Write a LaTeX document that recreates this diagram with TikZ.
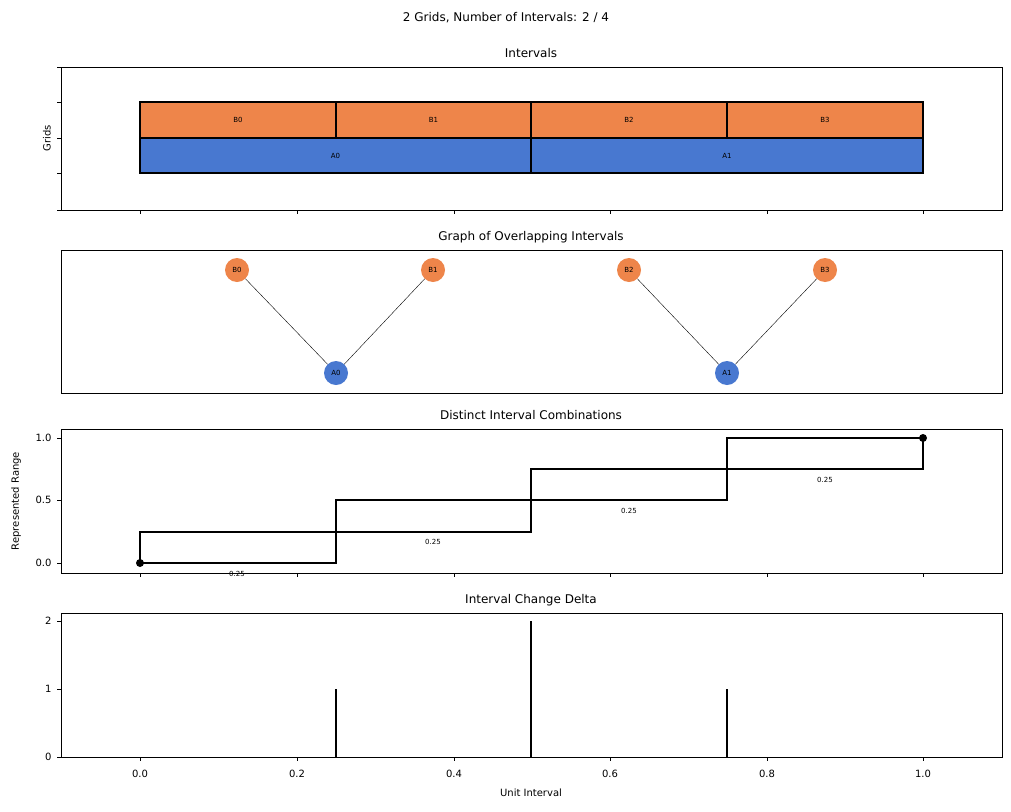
\documentclass[tikz,border=0pt]{standalone}
\usepackage{fontspec}
\setmainfont{DejaVu Sans}
\definecolor{org}{HTML}{EE854A}
\definecolor{blu}{HTML}{4878D0}
\begin{document}
\begin{tikzpicture}[x=1pt,y=-1pt,
  axbox/.style={draw=black,line width=0.6pt},
  ttl/.style={font=\fontsize{12}{14}\selectfont},
  lbl/.style={font=\fontsize{10}{12}\selectfont},
  small/.style={font=\fontsize{7}{8}\selectfont},
  gnode/.style={circle,minimum size=24pt,inner sep=0pt,font=\fontsize{7}{8}\selectfont},
  bar/.style={draw=black,line width=1.1pt},
  stepl/.style={line width=1.1pt}]
\useasboundingbox (0,0) rectangle (1011,811);
\node[ttl] (sup) at (506,18) {2 Grids, Number of Intervals: 2 / 4};
% panel 1
\draw[axbox] (61,67) rectangle (1002,210);
\node[ttl] (t1) at (531,53) {Intervals};
\node[lbl,rotate=90] (g) at (47,138) {Grids};
\foreach \y in {67,102,138,173,210} \draw (61,\y) -- (57,\y);
\foreach \x in {140,297,454,610,767,923} {\draw (\x,210) -- (\x,214); \draw (\x,573) -- (\x,577); \draw (\x,757) -- (\x,761);}
\foreach \a/\b/\n in {140/336/B0,336/531/B1,531/727/B2,727/923/B3}
  {\draw[bar,fill=org] (\a,102) rectangle (\b,138); \node[small] (r\n) at ({(\a+\b)/2},120) {\n};}
\foreach \a/\b/\n in {140/531/A0,531/923/A1}
  {\draw[bar,fill=blu] (\a,138) rectangle (\b,173); \node[small] (r\n) at ({(\a+\b)/2},156) {\n};}
% panel 2
\draw[axbox] (61,250) rectangle (1002,393);
\node[ttl] (t2) at (531,237) {Graph of Overlapping Intervals};
\node[gnode,fill=org] (B0) at (237,270) {B0};
\node[gnode,fill=org] (B1) at (433,270) {B1};
\node[gnode,fill=org] (B2) at (629,270) {B2};
\node[gnode,fill=org] (B3) at (825,270) {B3};
\node[gnode,fill=blu] (A0) at (336,373) {A0};
\node[gnode,fill=blu] (A1) at (727,373) {A1};
\draw (B0) -- (A0); \draw (B1) -- (A0); \draw (B2) -- (A1); \draw (B3) -- (A1);
% panel 3
\draw[axbox] (61,429) rectangle (1002,573);
\node[ttl] (t3) at (531,415) {Distinct Interval Combinations};
\node[lbl,rotate=90] (rr) at (16,501) {Represented Range};
\foreach \y/\t in {563/0.0,500/0.5,438/1.0} {\draw (61,\y) -- (57,\y); \node[lbl,anchor=east] at (55,\y) {\t};}
\coordinate (s) at (140,563); \coordinate (e) at (923,438);
\draw[stepl] (s) -- (140,532) -- (336,532) -- (336,500) -- (531,500) -- (531,469) -- (727,469) -- (727,438) -- (e);
\draw[stepl] (s) -- (336,563) -- (336,532) -- (531,532) -- (531,500) -- (727,500) -- (727,469) -- (923,469) -- (e);
\fill (s) circle (4); \fill (e) circle (4);
\node[small] at (237,574) {0.25};
\node[small] at (433,542) {0.25};
\node[small] at (629,511) {0.25};
\node[small] at (825,480) {0.25};
% panel 4
\draw[axbox] (61,613) rectangle (1002,757);
\node[ttl] (t4) at (531,600) {Interval Change Delta};
\foreach \y/\t in {757/0,689/1,621/2} {\draw (61,\y) -- (57,\y); \node[lbl,anchor=east] at (55,\y) {\t};}
\draw[stepl] (336,757) -- (336,689);
\draw[stepl] (531,757) -- (531,621);
\draw[stepl] (727,757) -- (727,689);
\foreach \x/\t in {140/0.0,297/0.2,454/0.4,610/0.6,767/0.8,923/1.0} \node[lbl] at (\x,774) {\t};
\node[lbl] (xl) at (531,793) {Unit Interval};
\end{tikzpicture}
\end{document}
